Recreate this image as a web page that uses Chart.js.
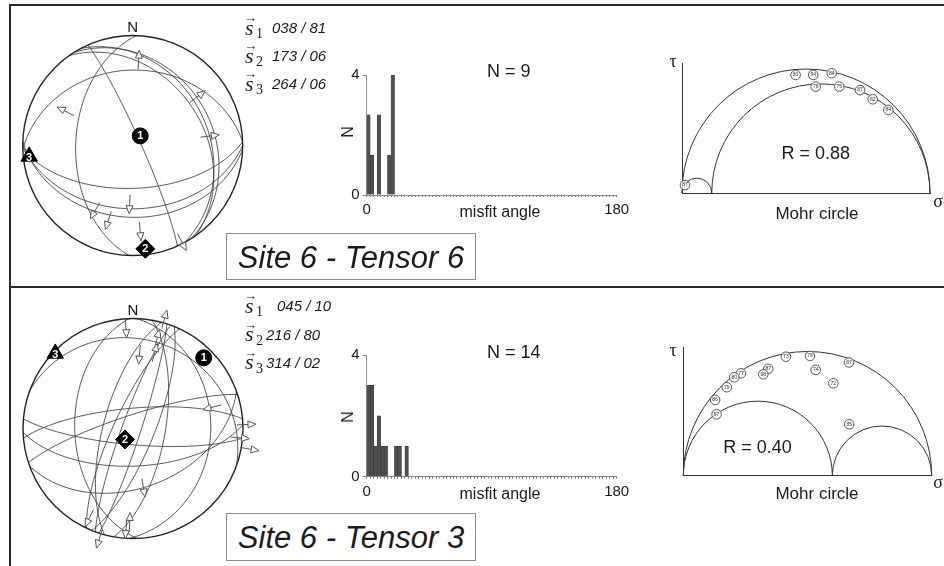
<!DOCTYPE html>
<html>
<head>
<meta charset="utf-8">
<title>Site 6 - Tensors 6 and 3</title>
<script src="https://cdn.jsdelivr.net/npm/chart.js@4.4.1/dist/chart.umd.min.js"></script>
<style>
html,body{margin:0;padding:0;background:#fff;}
#fig{position:relative;width:944px;height:566px;overflow:hidden;background:#fff;}
#fig canvas{position:absolute;}
.ln{position:absolute;background:#2a2a2a;}
.box{position:absolute;border:1px solid #8a8a8a;background:#fff;box-sizing:border-box;}
.tx{position:absolute;white-space:nowrap;color:#1a1a1a;}
</style>
</head>
<body>
<div id="fig">
  <div class="ln" style="left:9px;top:4px;width:935px;height:2px"></div>
  <div class="ln" style="left:9px;top:4px;width:2px;height:562px"></div>
  <div class="ln" style="left:9px;top:286px;width:935px;height:2px"></div>
  <canvas id="stereo1"></canvas>
  <canvas id="stereo2"></canvas>
  <canvas id="hist1"></canvas>
  <canvas id="hist2"></canvas>
  <canvas id="mohr1"></canvas>
  <canvas id="mohr2"></canvas>
  <div class="box" style="left:226px;top:233px;width:250px;height:47px"></div>
  <div class="box" style="left:226px;top:513px;width:250px;height:48px"></div>
</div>
<script>
// principal stress axes (trend / plunge, degrees)
const stressTrend1=[38,173,264], stressPlunge1=[81,6,6];
const stressTrend2=[45,216,314], stressPlunge2=[10,80,2];

// fault planes (dip direction / dip) and slip vectors (trend / plunge / +1 outward, -1 inward)
const planeDipDir1=[66,272,358,58,62,55,178,180,182];
const planeDip1   =[84,47,32,28,32,36,58,42,35];
const slipTrend1  =[4,53,83,297,183,210,198,175,153];
const slipPlunge1 =[31,35,38,40,53,40,37,31,11];
const slipSense1  =[1,1,1,1,1,1,1,1,1];

const planeDipDir2=[108,290,112,295,100,285,268,92,355,185,178,342,20,160];
const planeDip2   =[84,82,74,76,66,68,46,30,75,78,62,80,20,45];
const slipTrend2  =[356,5,16,15,16,197,206,184,182,170,88,95,100,75];
const slipPlunge2 =[0,25,6,25,37,4,19,18,7,52,6,12,1,18];
const slipSense2  =[-1,-1,1,1,1,1,1,1,-1,1,1,1,1,-1];

// misfit histograms (bin centre in degrees, 2.5 deg bins)
const misfitBin1=[1.25,3.75,8.75,16.25,18.75];
const misfitCount1=[2.67,1.33,2.67,1.33,4];
const misfitBin2=[1.25,3.75,6.25,8.75,11.25,13.75,21.25,23.75,28.75];
const misfitCount2=[3,3,1,2,1,1,1,1,1];
const misfitTicks=[0,180];

// Mohr diagrams: normalised sigma3, sigma2, sigma1 and the fault points
const mohrStress1=[0,0.12,1];
const mohrSigma1=[0.458,0.529,0.604,0.539,0.634,0.718,0.769,0.832,0.012];
const mohrTau1  =[0.476,0.476,0.483,0.429,0.429,0.415,0.378,0.335,0.032];
const mohrLabel1=['80','94','84','78','75','87','82','84','87'];
const mohrStress2=[0,0.6,1];
const mohrSigma2=[0.413,0.510,0.667,0.533,0.604,0.342,0.322,0.232,0.205,0.175,0.128,0.134,0.668];
const mohrTau2  =[0.479,0.482,0.456,0.426,0.372,0.430,0.408,0.412,0.396,0.356,0.305,0.247,0.207];
const mohrLabel2=['73','78','87','74','72','87','98','77','80','79','86','97','85'];

const SANS='"Liberation Sans", Arial, sans-serif';
const SERIF='"Liberation Serif", "Times New Roman", serif';
Chart.defaults.font.family=SANS;
Chart.defaults.color='#1a1a1a';
Chart.defaults.animation=false;
Chart.defaults.events=[];
Chart.defaults.plugins.legend.display=false;
Chart.defaults.plugins.tooltip.enabled=false;

const fig=document.getElementById('fig');
const D=Math.PI/180;

// lower hemisphere equal-area (Schmidt) projection, unit radius
function schmidt(trend,plunge){
  const r=Math.SQRT2*Math.sin((90-plunge)*D/2);
  return [r*Math.sin(trend*D),r*Math.cos(trend*D)];
}
function planeLine(dd,dip,a){
  const s=(dd-90)*D,d=dd*D,g=dip*D,t=a*D;
  const E=Math.cos(t)*Math.sin(s)+Math.sin(t)*Math.sin(d)*Math.cos(g);
  const N=Math.cos(t)*Math.cos(s)+Math.sin(t)*Math.cos(d)*Math.cos(g);
  const Dn=Math.min(1,Math.sin(t)*Math.sin(g));
  return schmidt(Math.atan2(E,N)/D,Math.asin(Dn)/D);
}

function mk(id,box,area,cfg,yW=0,xH=0){
  const c=document.getElementById(id);
  c.style.left=box[0]+'px';c.style.top=box[1]+'px';
  c.width=box[2];c.height=box[3];
  c.style.width=box[2]+'px';c.style.height=box[3]+'px';
  cfg.options=Object.assign(cfg.options||{},{responsive:false,maintainAspectRatio:false,devicePixelRatio:1,
    layout:{padding:{left:area[0]-box[0]-yW,top:area[1]-box[1],right:box[0]+box[2]-area[2],bottom:box[1]+box[3]-area[3]-xH}}});
  return new Chart(c,cfg);
}

function arrow(ctx,x0,y0,ux,uy,len){
  const hl=8,hw=3.5;
  const x1=x0+ux*len,y1=y0+uy*len,bx=x1-ux*hl,by=y1-uy*hl;
  ctx.beginPath();ctx.moveTo(x0,y0);ctx.lineTo(bx,by);ctx.stroke();
  ctx.beginPath();ctx.moveTo(x1,y1);ctx.lineTo(bx-uy*hw,by+ux*hw);ctx.lineTo(bx+uy*hw,by-ux*hw);ctx.closePath();
  ctx.fillStyle='#fff';ctx.fill();ctx.stroke();
}

function stereoChart(id,box,area,st,sp,dd,dip,at,ap,as){
  const pts=st.map((t,i)=>{const p=schmidt(t,sp[i]);return {x:p[0],y:p[1]};});
  return mk(id,box,area,{
    type:'scatter',
    data:{datasets:[{data:pts,pointStyle:['circle','rectRot','triangle'],pointRadius:[8,9.5,9.5],
      backgroundColor:'#000',borderColor:'#000',borderWidth:1,clip:false}]},
    options:{scales:{x:{display:false,min:-1,max:1},y:{display:false,min:-1,max:1}}},
    plugins:[{
      id:'net',
      beforeDatasetsDraw(ch){
        const {ctx,scales:{x,y}}=ch;
        const px=p=>[x.getPixelForValue(p[0]),y.getPixelForValue(p[1])];
        ctx.save();
        ctx.strokeStyle='#444';ctx.lineWidth=0.9;
        dd.forEach((d,i)=>{
          ctx.beginPath();
          for(let a=0;a<=180;a+=2){const p=px(planeLine(d,dip[i],a));a?ctx.lineTo(p[0],p[1]):ctx.moveTo(p[0],p[1]);}
          ctx.stroke();
        });
        const c=px([0,0]),R=x.getPixelForValue(1)-c[0];
        ctx.strokeStyle='#222';ctx.lineWidth=1.4;
        ctx.beginPath();ctx.arc(c[0],c[1],R,0,2*Math.PI);ctx.stroke();
        ctx.fillStyle='#111';ctx.font='15px '+SANS;ctx.textAlign='center';ctx.textBaseline='alphabetic';
        ctx.fillText('N',c[0],c[1]-R-4);
        ctx.strokeStyle='#555';ctx.lineWidth=1;
        at.forEach((t,i)=>{
          const p=px(schmidt(t,ap[i]));
          arrow(ctx,p[0],p[1],Math.sin(t*D)*as[i],-Math.cos(t*D)*as[i],19);
        });
        ctx.restore();
      },
      afterDatasetsDraw(ch){
        const ctx=ch.ctx,els=ch.getDatasetMeta(0).data;
        ctx.save();
        ctx.fillStyle='#fff';ctx.font='bold 11px '+SANS;ctx.textAlign='center';ctx.textBaseline='middle';
        els.forEach((e,i)=>ctx.fillText(String(i+1),e.x,e.y+(i===2?2:0.5)));
        ctx.restore();
      }
    }]
  });
}

function histChart(id,box,area,bins,counts){
  return mk(id,box,area,{
    type:'bar',
    data:{datasets:[{data:bins.map((b,i)=>({x:b,y:counts[i]})),backgroundColor:'#4f4f4f',borderColor:'#2e2e2e',
      borderWidth:0.5,barPercentage:1,categoryPercentage:1}]},
    options:{scales:{
      x:{type:'linear',min:0,max:180,offset:false,
        grid:{display:true,drawOnChartArea:false,tickLength:2,color:'#777',offset:false},
        border:{color:'#888'},
        ticks:{stepSize:2.5,autoSkip:false,maxRotation:0,minRotation:0,padding:4,font:{size:15},
          callback:v=>misfitTicks.includes(v)?String(v):''},
        afterFit:s=>{s.height=28;}},
      y:{type:'linear',min:0,max:4,
        grid:{drawOnChartArea:false,tickLength:4,color:'#888'},
        border:{color:'#999'},
        ticks:{stepSize:4,padding:3,font:{size:15}},
        afterFit:s=>{s.width=30;}}
    }}
  },30,28);
}

function mohrChart(id,box,area,stress,sig,tau,labels,tauMax){
  return mk(id,box,area,{
    type:'scatter',
    data:{datasets:[{data:sig.map((s,i)=>({x:s,y:tau[i]})),pointRadius:4.8,backgroundColor:'rgba(255,255,255,0.85)',
      borderColor:'#555',borderWidth:1,clip:false}]},
    options:{scales:{
      x:{type:'linear',min:0,max:1,grid:{display:false},ticks:{display:false},border:{color:'#333'},afterFit:s=>{s.height=0;}},
      y:{type:'linear',min:0,max:tauMax,grid:{display:false},ticks:{display:false},border:{color:'#333'},afterFit:s=>{s.width=0;}}
    }},
    plugins:[{
      id:'mohr',
      beforeDatasetsDraw(ch){
        const {ctx,scales:{x,y}}=ch,y0=y.getPixelForValue(0);
        ctx.save();ctx.strokeStyle='#333';ctx.lineWidth=1;
        [[stress[0],stress[2]],[stress[0],stress[1]],[stress[1],stress[2]]].forEach(([a,b])=>{
          const cx=x.getPixelForValue((a+b)/2),rx=x.getPixelForValue(b)-cx,ry=y0-y.getPixelForValue((b-a)/2);
          ctx.beginPath();ctx.ellipse(cx,y0,rx,ry,0,Math.PI,2*Math.PI);ctx.stroke();
        });
        ctx.restore();
      },
      afterDatasetsDraw(ch){
        const ctx=ch.ctx,els=ch.getDatasetMeta(0).data;
        ctx.save();ctx.fillStyle='#333';ctx.font='5px '+SANS;ctx.textAlign='center';ctx.textBaseline='middle';
        els.forEach((e,i)=>ctx.fillText(labels[i],e.x,e.y));
        ctx.restore();
      }
    }]
  });
}

stereoChart('stereo1',[0,5,275,275],[22.7,35.5,242.7,255.5],stressTrend1,stressPlunge1,planeDipDir1,planeDip1,slipTrend1,slipPlunge1,slipSense1);
stereoChart('stereo2',[0,288,278,278],[23,318.5,243,538.5],stressTrend2,stressPlunge2,planeDipDir2,planeDip2,slipTrend2,slipPlunge2,slipSense2);
histChart('hist1',[325,40,320,185],[366.7,75,616.7,195],misfitBin1,misfitCount1);
histChart('hist2',[325,320,320,185],[366.7,355,616.7,476.7],misfitBin2,misfitCount2);
mohrChart('mohr1',[675,50,269,150],[682,63.3,930,193],mohrStress1,mohrSigma1,mohrTau1,mohrLabel1,0.523);
mohrChart('mohr2',[675,335,269,150],[683.3,347,931.7,475.7],mohrStress2,mohrSigma2,mohrTau2,mohrLabel2,0.518);

// text
function label(str,x,base,size,o={}){
  const el=document.createElement('div');
  el.className='tx';el.textContent=str;
  el.style.font=(o.italic?'italic ':'')+(o.bold?'bold ':'')+size+'px '+(o.serif?SERIF:SANS);
  el.style.lineHeight=size+'px';
  el.style.left=x+'px';
  if(o.rot){el.style.top=base+'px';el.style.transform='translate(-50%,-50%) rotate(-90deg)';}
  else{
    el.style.top=(base-(o.serif?0.8375:0.8465)*size)+'px';
    if(o.center) el.style.transform='translateX(-50%)';
  }
  fig.appendChild(el);
}
const pad=(v,n)=>String(v).padStart(n,'0');
function stressLabels(st,sp,bases,valX){
  bases.forEach((b,i)=>{
    label('s',245,b,22,{italic:true,serif:true});
    label('\u2192',244,b-13,13,{serif:true});
    label(String(i+1),256,b+4,14,{serif:true});
    label(pad(st[i],3)+' / '+pad(sp[i],2),valX[i],b-2,15,{italic:true});
  });
}
stressLabels(stressTrend1,stressPlunge1,[35,63,91],[272,272,272]);
stressLabels(stressTrend2,stressPlunge2,[313,341.5,369.5],[277,266,266]);

label('N = 9',508.7,77.5,18,{center:true});
label('N = 14',513.8,358,18,{center:true});
label('N',348,132,16,{rot:true});
label('N',348,416.7,16,{rot:true});
label('misfit angle',500,218,16,{center:true});
label('misfit angle',500,500,16,{center:true});

label('R = 0.88',815.8,159.7,18,{center:true});
label('R = 0.40',757.5,453,18,{center:true});
label('Mohr circle',817,219,17,{center:true});
label('Mohr circle',817,499,17,{center:true});
label('\u03c4',673,67,18,{center:true,serif:true});
label('\u03c4',673,356,18,{center:true,serif:true});
label('\u03c3',938,207,18,{center:true,serif:true});
label('\u03c3',938,488,18,{center:true,serif:true});

label('Site 6 - Tensor 6',351,268,31,{center:true,italic:true});
label('Site 6 - Tensor 3',351,548,31,{center:true,italic:true});
</script>
</body>
</html>
